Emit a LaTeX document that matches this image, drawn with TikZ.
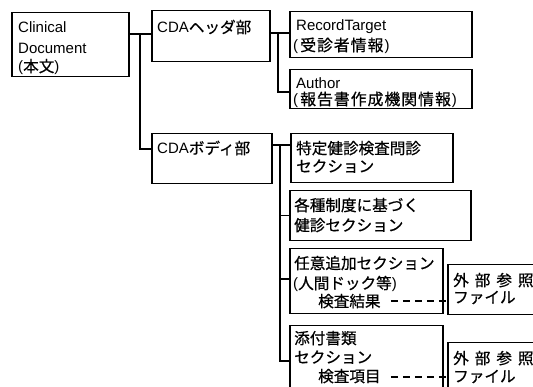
\documentclass[tikz,border=0pt]{standalone}
\usepackage{fontspec}
\setmainfont{Liberation Sans}
\newfontfamily\jp{Noto Sans CJK JP}[Scale=1.04, FakeBold=0.6]
\newfontfamily\jpw{Noto Sans CJK JP}[Scale=1.06, LetterSpace=6, FakeBold=0.6]
\begin{document}
\begin{tikzpicture}[x=1pt,y=-1pt,
  box/.style={draw, line width=1.5pt, rectangle, anchor=north west, inner sep=0pt},
  txt/.style={anchor=base west, inner sep=0pt, font=\fontsize{15}{18}\selectfont},
  ln/.style={line width=1.5pt},
  dl/.style={line width=1.8pt, dash pattern=on 7pt off 5pt}]
\useasboundingbox (0,0) rectangle (533,387);
\clip (0,0) rectangle (533,387);
% boxes
\node[box, minimum width=117pt, minimum height=64pt] (b1) at (11,12) {};
\node[box, minimum width=118pt, minimum height=51pt] (b2) at (151,10) {};
\node[box, minimum width=182pt, minimum height=46pt] (b3) at (289,11) {};
\node[box, minimum width=182pt, minimum height=39pt] (b4) at (289,69) {};
\node[box, minimum width=120pt, minimum height=50pt] (b5) at (151,133) {};
\node[box, minimum width=162pt, minimum height=49pt] (b6) at (290,133) {};
\node[box, minimum width=181pt, minimum height=50pt] (b7) at (289,190) {};
\node[box, minimum width=153pt, minimum height=65pt] (b8) at (289,248) {};
\node[box, minimum width=153pt, minimum height=80pt] (b9) at (289,325) {};
\node[box, minimum width=120pt, minimum height=50pt] (b10) at (447,264) {};
\node[box, minimum width=120pt, minimum height=60pt] (b11) at (447,342) {};
% texts
\node[txt] (t1a) at (18,33) {Clinical};
\node[txt] (t1b) at (18,54) {Document};
\node[txt] (t1c) at (18,72) {({\jp 本文})};
\node[txt] (t2) at (157,33) {CDA{\jp ヘッダ部}};
\node[txt] (t3a) at (296,31) {RecordTarget};
\node[txt] (t3b) at (293,51) {(\hspace{2pt}{\jpw 受診者情報}\hspace{1pt})};
\node[txt] (t4a) at (296,89) {Author};
\node[txt] (t4b) at (293,105) {(\hspace{2pt}{\jpw 報告書作成機関情報}\hspace{1pt})};
\node[txt] (t5) at (157,154) {CDA{\jp ボディ部}};
\node[txt] (t6a) at (296,154) {\jp 特定健診検査問診};
\node[txt] (t6b) at (296,172) {\jp セクション};
\node[txt] (t7a) at (294,211) {\jp 各種制度に基づく};
\node[txt] (t7b) at (294,231) {\jp 健診セクション};
\node[txt] (t8a) at (294,269) {\jp 任意追加セクション};
\node[txt] (t8b) at (293,289) {({\jp 人間ドック等})};
\node[txt] (r8) at (318,307) {\jp 検査結果};
\node[txt] (t9a) at (294,344) {\jp 添付書類};
\node[txt] (t9b) at (294,363) {\jp セクション};
\node[txt] (r9) at (318,382) {\jp 検査項目};
\node[txt] (t10a) at (453,286) {\jp 外\hspace{6pt}部\hspace{6pt}参\hspace{6pt}照};
\node[txt] (t10b) at (453,303) {\jp ファイル};
\node[txt] (t11a) at (453,364) {\jp 外\hspace{6pt}部\hspace{6pt}参\hspace{6pt}照};
\node[txt] (t11b) at (453,382) {\jp ファイル};
% junctions
\coordinate (J1) at (140,34);
\coordinate (J2) at (278,33);
\coordinate (J3) at (280,145);
% connectors
\draw[ln] (b1.east |- J1) -- (b2.west |- J1);
\draw[ln] (J1) |- ([yshift=-16pt]b5.north west);
\draw[ln] (b2.east |- J2) -- (b3.west |- J2);
\draw[ln] (J2) |- ([yshift=-23pt]b4.north west);
\draw[ln] (b5.east |- J3) -- (b6.west |- J3);
\draw[ln] (J3) |- (b7.west);
\draw[ln] (J3) |- ([yshift=-31pt]b8.north west);
\draw[ln] (J3) |- ([yshift=-36pt]b9.north west);
\draw[dl] ([shift={(10pt,6pt)}]r8.base east) -- ([yshift=6pt]r8.base -| b10.west);
\draw[dl] ([shift={(10pt,5pt)}]r9.base east) -- ([yshift=5pt]r9.base -| b11.west);
\end{tikzpicture}
\end{document}
